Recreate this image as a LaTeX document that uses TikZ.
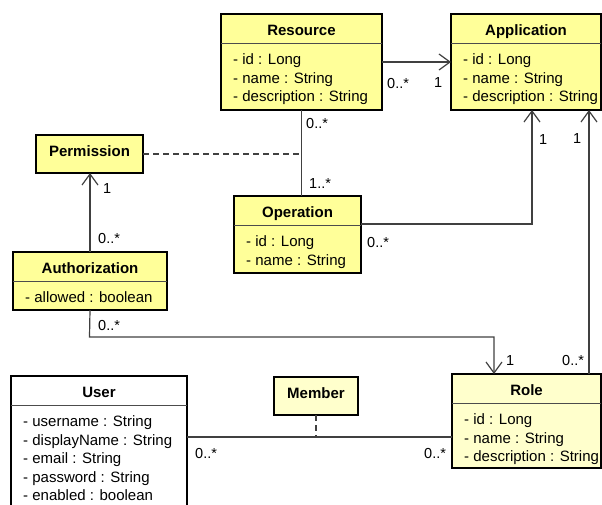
\documentclass[tikz,border=0pt]{standalone}
\usepackage{fontspec}
\setmainfont{Liberation Sans}
\usetikzlibrary{arrows.meta}
\definecolor{clsY}{RGB}{255,255,153}
\definecolor{clsL}{RGB}{255,255,204}
\definecolor{lineC}{RGB}{64,64,64}
\tikzset{
 box/.style={draw=black,line width=2pt,inner sep=0pt,outer sep=0pt},
 ttl/.style={font=\fontsize{15}{18}\selectfont\bfseries,inner sep=0pt},
 attr/.style={font=\fontsize{15}{18}\selectfont,inner sep=0pt},
 mult/.style={font=\fontsize{14.5}{17}\selectfont,inner sep=0pt,anchor=base west},
 sepline/.style={draw=black!70,line width=1pt},
 assoc/.style={draw=lineC,line width=1.2pt},
 nav/.style={assoc,-{Straight Barb[length=11pt,width=16pt]}},
 dep/.style={assoc,dash pattern=on 6pt off 4pt},
}
% #1 name, #2 x, #3 y, #4 w, #5 h, #6 fill, #7 title, #8 attributes
\newcommand\umlclass[8]{%
 \node[box,fill=#6,minimum width=#4,minimum height=#5,anchor=north west] (#1) at (#2,#3) {};
 \node[ttl,anchor=base] (#1-t) at ([yshift=-21.5]#1.north) {#7};
 \draw[sepline] ([yshift=-29]#1.north west) -- ([yshift=-29]#1.north east);
 \foreach \a [count=\i] in {#8} {%
   \node[attr,anchor=base west] (#1-a\i) at ([xshift=12,yshift={-50.5-18.6*(\i-1)}]#1.north west) {\a};}%
}
\begin{document}
\begin{tikzpicture}[x=1pt,y=-1pt]
\clip (0,0) rectangle (602,504);
% classes
\umlclass{res}{221}{14}{161}{96}{clsY}{Resource}{- id : Long,- name : String,- description : String}
\umlclass{app}{451}{14}{150}{96}{clsY}{Application}{- id : Long,- name : String,- description : String}
\umlclass{auth}{13}{252}{154}{58}{clsY}{Authorization}{- allowed : boolean}
\umlclass{op}{234}{196}{127}{77}{clsY}{Operation}{- id : Long,- name : String}
\umlclass{role}{452}{374}{149}{94}{clsL}{Role}{- id : Long,- name : String,- description : String}
\umlclass{user}{11}{376}{176}{140}{white}{User}{- username : String,- displayName : String,- email : String,- password : String,- enabled : boolean}
\node[box,fill=clsY,minimum width=107,minimum height=38,anchor=north west] (perm) at (36,135) {};
\node[ttl,anchor=base] (perm-t) at ([yshift=-21.5]perm.north) {Permission};
\node[box,fill=clsL,minimum width=84,minimum height=38,anchor=north west] (mem) at (274,377) {};
\node[ttl,anchor=base] (mem-t) at ([yshift=-21.5]mem.north) {Member};
% helper coordinates
\coordinate (pj) at (302,154);
\coordinate (oa) at (532,224);
\coordinate (rr) at (589,374);
\coordinate (b1) at (89.5,337);
\coordinate (b2) at (494,337);
\coordinate (ur) at (0,437);
% connectors
\draw[nav] (res.east) -- (app.west);
\draw[dep] (perm.east) -- (pj);
\draw[assoc] (res.south) -- (res.south |- op.north);
\draw[nav] (op.east |- oa) -- (oa) -- (oa |- app.south);
\draw[nav] (rr) -- (rr |- app.south);
\draw[nav] (auth.north) -- (auth.north |- perm.south);
\draw[nav] (auth.south) -- (b1) -- (b2) -- (b2 |- role.north);
\draw[assoc] (user.east |- ur) -- (role.west |- ur);
\draw[dep] (mem.south) -- (mem.south |- ur);
% multiplicities
\node[mult] (m1) at (387,88) {0..*};
\node[mult] (m2) at (434,87) {1};
\node[mult] (m3) at (306,128) {0..*};
\node[mult] (m4) at (309,188) {1..*};
\node[mult] (m5) at (367,247) {0..*};
\node[mult] (m6) at (539,144) {1};
\node[mult] (m7) at (573,143) {1};
\node[mult] (m8) at (103,193) {1};
\node[mult] (m9) at (98,243) {0..*};
\node[mult] (m10) at (98,330) {0..*};
\node[mult] (m11) at (506,365) {1};
\node[mult] (m12) at (562,365) {0..*};
\node[mult] (m13) at (424,458) {0..*};
\node[mult] (m14) at (195,458) {0..*};
\end{tikzpicture}
\end{document}
